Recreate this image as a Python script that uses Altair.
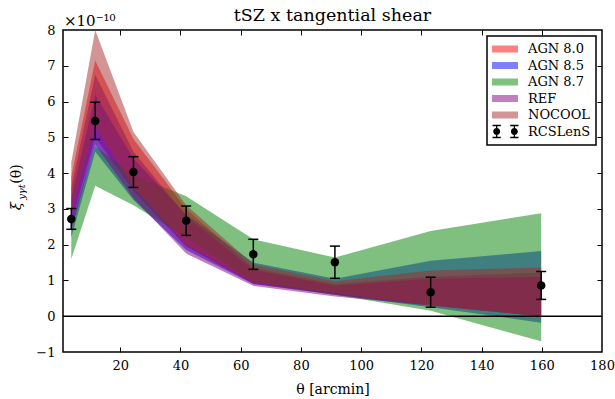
import altair as alt
import pandas as pd

# ---------------- data ----------------
models = ["AGN 8.0", "AGN 8.5", "AGN 8.7", "REF", "NOCOOL"]
theta = [3.75, 11.7, 24.4, 41.9, 64.2, 91.3, 123.1, 159.8]

# RCSLenS measurement (units of 1e-10)
xi_obs = [2.72, 5.46, 4.03, 2.67, 1.73, 1.51, 0.67, 0.86]
xi_err = [0.29, 0.52, 0.43, 0.41, 0.42, 0.45, 0.42, 0.39]

# model bands (lower / upper), units of 1e-10
agn80_lo = [2.60, 5.00, 3.50, 1.95, 0.90, 0.60, 0.30, 0.00]
agn80_hi = [3.90, 7.15, 4.95, 3.00, 1.35, 0.90, 1.10, 1.22]
agn85_lo = [2.20, 4.60, 3.25, 1.85, 0.90, 0.60, 0.25, -0.18]
agn85_hi = [3.30, 6.20, 4.40, 2.85, 1.50, 1.05, 1.55, 1.82]
agn87_lo = [1.60, 3.65, 3.10, 2.20, 0.95, 0.60, 0.15, -0.70]
agn87_hi = [2.60, 4.75, 3.95, 3.35, 2.15, 1.64, 2.38, 2.88]
ref_lo = [2.40, 4.80, 3.30, 1.75, 0.85, 0.55, 0.30, 0.00]
ref_hi = [3.60, 6.75, 4.60, 2.80, 1.30, 0.85, 1.05, 1.10]
nocool_lo = [2.90, 5.30, 3.60, 2.00, 0.95, 0.65, 0.30, 0.00]
nocool_hi = [4.30, 8.00, 5.15, 3.10, 1.45, 0.98, 1.28, 1.36]

band_lo = [agn80_lo, agn85_lo, agn87_lo, ref_lo, nocool_lo]
band_hi = [agn80_hi, agn85_hi, agn87_hi, ref_hi, nocool_hi]

x_ticks = [20, 40, 60, 80, 100, 120, 140, 160, 180]
y_ticks = [-1, 0, 1, 2, 3, 4, 5, 6, 7, 8]

# ---------------- styles ----------------
band_colors = ["red", "blue", "green", "purple", "brown"]
legend_domain = models + ["RCSLenS"]
legend_fills = ["#ff8080", "#8080ff", "#80c080", "#c080c0", "#d29494", "black"]
FONT = "DejaVu Serif"
W, H = 539, 322

rect_path = "M-1,-0.27H1V0.27H-1Z"


def f(v):
    return f"{v:.3f}"


def errglyph(cx, r=0.27, bw=0.05, cap=0.32, ch=0.46, ct=0.05):
    p = []
    p.append(f"M{f(cx - r)},0A{f(r)},{f(r)} 0 1,1 {f(cx + r)},0A{f(r)},{f(r)} 0 1,1 {f(cx - r)},0Z")
    p.append(f"M{f(cx - bw)},{f(-ch)}H{f(cx + bw)}V{f(-r)}H{f(cx - bw)}Z")
    p.append(f"M{f(cx - bw)},{f(r)}H{f(cx + bw)}V{f(ch)}H{f(cx - bw)}Z")
    p.append(f"M{f(cx - cap)},{f(-ch - ct)}H{f(cx + cap)}V{f(-ch + ct)}H{f(cx - cap)}Z")
    p.append(f"M{f(cx - cap)},{f(ch - ct)}H{f(cx + cap)}V{f(ch + ct)}H{f(cx - cap)}Z")
    return "".join(p)


legend_shapes = [rect_path] * 5 + [errglyph(-0.64) + errglyph(0.72)]

# ---------------- tables ----------------
rows = []
for m, los, his in zip(models, band_lo, band_hi):
    for t, lo, hi in zip(theta, los, his):
        rows.append({"model": m, "theta": t, "lo": lo, "hi": hi})
band_df = pd.DataFrame(rows)

obs_df = pd.DataFrame({
    "theta": theta,
    "xi": xi_obs,
    "lo": [v - e for v, e in zip(xi_obs, xi_err)],
    "hi": [v + e for v, e in zip(xi_obs, xi_err)],
})
zero_df = pd.DataFrame({"y": [0]})
legend_df = pd.DataFrame({"model": legend_domain})
dummy = pd.DataFrame({"a": [0]})

xs = alt.Scale(domain=[1, 180], nice=False, zero=False)
ys = alt.Scale(domain=[-1, 8], nice=False, zero=False)


def lab_x():
    return alt.Axis(values=x_ticks, ticks=False, domain=False, grid=False,
                    labelFont=FONT, labelFontSize=13, labelColor="black",
                    labelPadding=7, labelOverlap=False, labelFlush=False,
                    title="θ [arcmin]", titleFont=FONT, titleFontSize=14,
                    titleFontWeight="normal", titleColor="black", titlePadding=10)


def lab_y():
    return alt.Axis(values=y_ticks, ticks=False, domain=False, grid=False,
                    labelFont=FONT, labelFontSize=13, labelColor="black",
                    labelPadding=8, labelOverlap=False, labelFlush=False,
                    title=None)


def tick_axis(orient, values, offset):
    return alt.Axis(orient=orient, offset=offset, values=values, tickSize=5,
                    tickWidth=1, tickColor="black", labels=False, domain=False,
                    grid=False, title=None)


layers = []
for i, (m, c) in enumerate(zip(models, band_colors)):
    layers.append(
        alt.Chart(band_df).transform_filter(alt.datum.model == m)
        .mark_area(opacity=0.5, color=c)
        .encode(
            x=alt.X("theta:Q", scale=xs, axis=lab_x() if i == 0 else None),
            y=alt.Y("lo:Q", scale=ys, axis=lab_y() if i == 0 else None),
            y2="hi:Q",
        )
    )

layers.append(
    alt.Chart(zero_df).mark_rule(color="black", strokeWidth=1.6)
    .encode(y=alt.Y("y:Q", scale=ys, axis=None))
)

layers.append(
    alt.Chart(obs_df).mark_rule(color="black", strokeWidth=1.5)
    .encode(
        x=alt.X("theta:Q", scale=xs, axis=tick_axis("bottom", x_ticks[:-1], -H)),
        y=alt.Y("lo:Q", scale=ys, axis=tick_axis("left", y_ticks[1:-1], -W)),
        y2="hi:Q",
    )
)
for col in ["lo", "hi"]:
    layers.append(
        alt.Chart(obs_df).mark_tick(orient="horizontal", color="black", size=10,
                                    thickness=1.5, opacity=1)
        .encode(
            x=alt.X("theta:Q", scale=xs, axis=None),
            y=alt.Y(f"{col}:Q", scale=ys, axis=None),
        )
    )

layers.append(
    alt.Chart(obs_df).mark_circle(size=72, color="black", opacity=1)
    .encode(
        x=alt.X("theta:Q", scale=xs, axis=tick_axis("top", x_ticks[:-1], -H)),
        y=alt.Y("xi:Q", scale=ys, axis=tick_axis("right", y_ticks[1:-1], -W)),
    )
)

# legend-only layer (no marks drawn)
layers.append(
    alt.Chart(legend_df).transform_filter("false")
    .mark_point(filled=True, opacity=1)
    .encode(
        fill=alt.Fill("model:N", scale=alt.Scale(domain=legend_domain, range=legend_fills),
                      legend=alt.Legend(title=None)),
        shape=alt.Shape("model:N", scale=alt.Scale(domain=legend_domain, range=legend_shapes),
                        legend=alt.Legend(title=None)),
    )
)

# title, exponent label and y-axis title
layers.append(
    alt.Chart(dummy).mark_text(text="tSZ x tangential shear", font=FONT, fontSize=17.5,
                               align="center", baseline="alphabetic", color="black")
    .encode(x=alt.value(W / 2), y=alt.value(-9))
)
layers.append(
    alt.Chart(dummy).mark_text(text="×10⁻¹⁰", font=FONT, fontSize=15, align="left",
                               baseline="alphabetic", color="black")
    .encode(x=alt.value(1), y=alt.value(-4))
)
layers.append(
    alt.Chart(dummy).mark_text(text="ξ", font=FONT, fontSize=15, fontStyle="italic",
                               angle=270, align="center", baseline="alphabetic", color="black")
    .encode(x=alt.value(-42), y=alt.value(176))
)
layers.append(
    alt.Chart(dummy).mark_text(text="yγt", font=FONT, fontSize=10, fontStyle="italic",
                               angle=270, align="center", baseline="alphabetic", color="black")
    .encode(x=alt.value(-38), y=alt.value(162))
)
layers.append(
    alt.Chart(dummy).mark_text(text="(θ)", font=FONT, fontSize=14,
                               angle=270, align="center", baseline="alphabetic", color="black")
    .encode(x=alt.value(-42), y=alt.value(144))
)

chart = (
    alt.layer(*layers)
    .resolve_axis(x="independent", y="independent")
    .properties(
        width=W, height=H,
        autosize=alt.AutoSizeParams(type="none"),
        padding={"left": 63, "top": 30, "right": 13, "bottom": 47},
    )
    .configure_view(stroke="black", strokeWidth=1.5)
    .configure_legend(orient="top-right", offset=6, strokeColor="black", strokeWidth=1.5,
                      fillColor="white", padding=5, labelFont=FONT, labelFontSize=13,
                      labelColor="black", symbolSize=676, clipHeight=16, rowPadding=0.5,
                      labelOffset=10, cornerRadius=0, symbolStrokeWidth=0)
)

chart.save("out.html", embed_options={"renderer": "svg", "actions": False})
